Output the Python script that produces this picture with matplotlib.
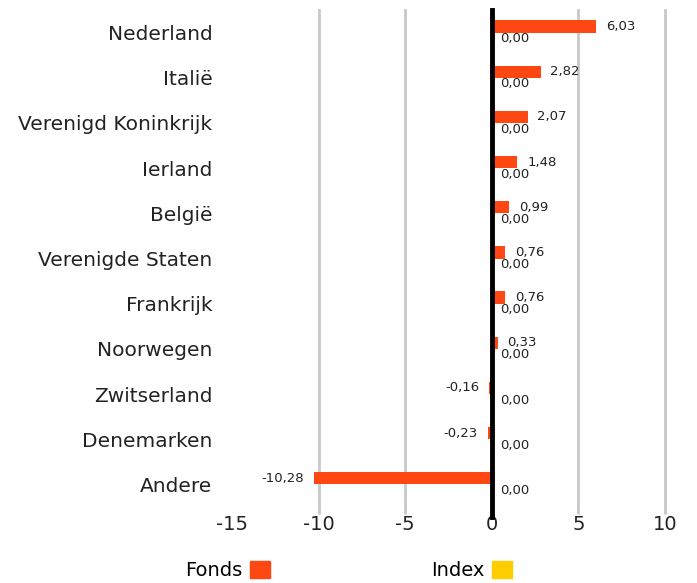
import matplotlib.pyplot as plt
import numpy as np
from matplotlib.patches import Patch

landen = ["Nederland", "Italië", "Verenigd Koninkrijk", "Ierland", "België",
          "Verenigde Staten", "Frankrijk", "Noorwegen", "Zwitserland",
          "Denemarken", "Andere"]
fonds = [6.03, 2.82, 2.07, 1.48, 0.99, 0.76, 0.76, 0.33, -0.16, -0.23, -10.28]
index = [0.00] * 11
xticks = [-15, -10, -5, 0, 5, 10]

orange = "#FF4713"
geel = "#FFCE00"
grijs = "#C8C8C8"

plt.rcParams['font.family'] = ['DejaVu Sans']

fig = plt.figure(figsize=(6.97, 5.83), dpi=100)
ax = fig.add_axes([0.3329, 0.1304, 0.6212, 0.8524])

y = np.arange(len(landen))
h = 0.27
ax.barh(y - h / 2, fonds, height=h, color=orange, zorder=3)
ax.barh(y + h / 2, index, height=h, color=geel, zorder=3)


def fmt(v):
    return f"{v:.2f}".replace(".", ",")


for i, v in enumerate(fonds):
    if v >= 0:
        ax.annotate(fmt(v), (v, y[i] - h / 2), xytext=(7, 0), textcoords="offset points",
                    ha="left", va="center", fontsize=9.5, color="#222222")
    else:
        ax.annotate(fmt(v), (v, y[i] - h / 2), xytext=(-7, 0), textcoords="offset points",
                    ha="right", va="center", fontsize=9.5, color="#222222")
for i, v in enumerate(index):
    ax.annotate(fmt(v), (v, y[i] + h / 2), xytext=(6, 0), textcoords="offset points",
                ha="left", va="center", fontsize=9.5, color="#222222")

ax.set_xlim(-15, 10)
ax.set_ylim(len(landen) - 0.5, -0.5)
ax.set_xticks(xticks)
ax.set_xticklabels([str(t) for t in xticks], fontsize=14, color="#222222")
ax.set_yticks(y)
ax.set_yticklabels(landen, fontsize=14.5, color="#222222")
ax.tick_params(axis="y", length=0, pad=14)
ax.tick_params(axis="x", length=5, width=2, color=grijs, pad=1)
ax.xaxis.get_major_ticks()[0].tick1line.set_visible(False)

for t in xticks:
    if t in (-15, 0):
        continue
    ax.axvline(t, color=grijs, lw=2, zorder=1, clip_on=False)
ax.axvline(0, color="black", lw=3.5, zorder=4, ymin=-0.02, clip_on=False)

for s in ax.spines.values():
    s.set_visible(False)

handles = [Patch(color=orange, label="Fonds"), Patch(color=geel, label="Index")]
fig.legend(handles=handles, loc="lower center", bbox_to_anchor=(0.5, -0.025), ncol=2,
           frameon=False, markerfirst=False, fontsize=14, columnspacing=8.3,
           handlelength=1.0, handleheight=1.0, handletextpad=0.4)

fig.savefig("out.png", dpi=100)
